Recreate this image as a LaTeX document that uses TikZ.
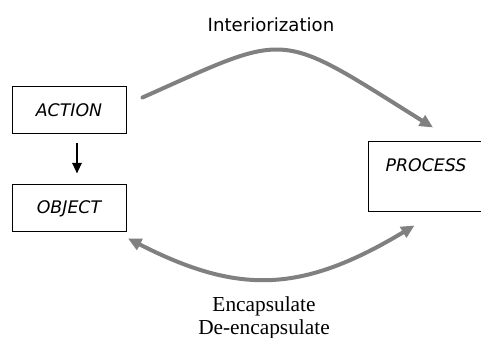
\documentclass[tikz,border=0pt]{standalone}
\usepackage{fontspec}
\setmainfont{Liberation Serif}
\setsansfont{DejaVu Sans}
\usetikzlibrary{positioning}
\usetikzlibrary{arrows.meta}
\definecolor{flowgray}{RGB}{128,128,128}

\begin{document}
\begin{tikzpicture}[x=0.75pt, y=0.75pt, >={Triangle[length=10pt,width=9pt]},
box/.style={draw, line width=0.75pt, inner sep=0pt, font=\sffamily\itshape\fontsize{13}{15}\selectfont},
flow/.style={flowgray, line width=3pt, line cap=round},
step arrow/.style={black, line width=1.5pt, -{Triangle[length=8pt,width=7pt]}}]

\useasboundingbox (0,0) rectangle (481,338);

\node [box, minimum width=85.5pt, minimum height=35.25pt] (action) at (69,227.5) {ACTION};
\node [box, minimum width=85.5pt, minimum height=35.25pt] (object) at (69,129.5) {OBJECT};
\node [box, minimum width=87pt, text height=22.5pt, text depth=30pt] (process) at (426,161) {PROCESS};

% action to object
\draw [step arrow] ([shift={(8,-9)}]action.south) -- ([shift={(8,11)}]object.north);

% interiorization
\draw [flow, ->] ([shift={(16,-11)}]action.north east) to[out=24, in=148, out looseness=1.43, in looseness=1.63] ([shift={(7,14)}]process.north);
\node [font=\sffamily\fontsize{13.6}{16}\selectfont, anchor=base] (interior) at (271,306) {Interiorization};

% encapsulate / de-encapsulate
\draw [flow, <->] ([shift={(59,-6)}]object.south) to[out=-27, in=-149, out looseness=1.11, in looseness=1.17] ([shift={(47,-13)}]process.south west);
\node [font=\fontsize{16}{17}\selectfont, anchor=base] (encap) at (264,26) {Encapsulate};
\node [font=\fontsize{16}{17}\selectfont, below=17.25pt of encap.base, anchor=base] (deencap) {De-encapsulate};

\end{tikzpicture}
\end{document}
